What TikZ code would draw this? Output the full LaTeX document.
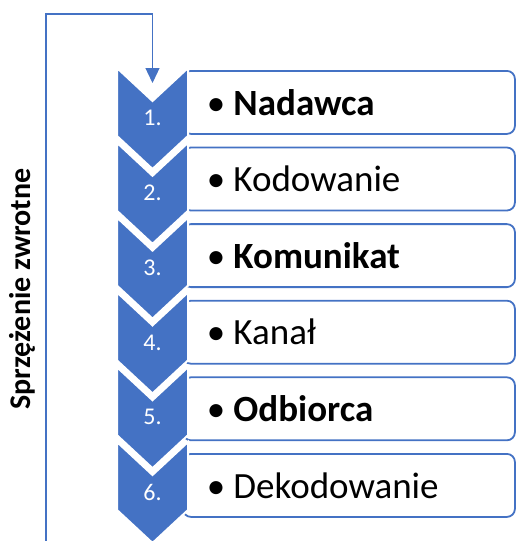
\documentclass[tikz,border=0pt]{standalone}
\usepackage{fontspec}
\setmainfont{Carlito}
\usetikzlibrary{arrows.meta,positioning}
\definecolor{accent}{HTML}{4472C4}

\begin{document}
\begin{tikzpicture}[x=1pt,y=-1pt,node distance=11.8pt,
    chevron/.style={fill=accent,draw=white,line width=2pt,line join=miter},
    entry/.style={draw=accent,line width=1.8pt,fill=white,rounded corners=8pt,
      minimum height=63pt,text width=284pt,inner xsep=24pt,align=left,
      font=\fontsize{37}{44}\selectfont},
    step label/.style={text=white,font=\fontsize{24}{28}\selectfont},
    feedback/.style={draw=accent,line width=1.3pt}]
      \useasboundingbox (0,0) rectangle (516,541);

      % boxes
      \node[entry,anchor=north west] (e1) at (182,70) {\textbullet\hspace{0.22em}\textbf{Nadawca}};
      \node[entry] (e2) [below=of e1] {\textbullet\hspace{0.22em}Kodowanie};
      \node[entry] (e3) [below=of e2] {\textbullet\hspace{0.22em}\textbf{Komunikat}};
      \node[entry] (e4) [below=of e3] {\textbullet\hspace{0.22em}Kanał};
      \node[entry] (e5) [below=of e4] {\textbullet\hspace{0.22em}\textbf{Odbiorca}};
      \node[entry] (e6) [below=of e5] {\textbullet\hspace{0.22em}Dekodowanie};

      % chevrons
      \draw[chevron] (117,68) -- (152.5,101) -- (188,68) -- (188,136) -- (152.5,169) -- (117,136) -- cycle;
      \draw[chevron] (117,142.8) -- (152.5,175.8) -- (188,142.8) -- (188,210.8) -- (152.5,243.8) -- (117,210.8) -- cycle;
      \draw[chevron] (117,217.6) -- (152.5,250.6) -- (188,217.6) -- (188,285.6) -- (152.5,318.6) -- (117,285.6) -- cycle;
      \draw[chevron] (117,292.4) -- (152.5,325.4) -- (188,292.4) -- (188,360.4) -- (152.5,393.4) -- (117,360.4) -- cycle;
      \draw[chevron] (117,367.2) -- (152.5,400.2) -- (188,367.2) -- (188,435.2) -- (152.5,468.2) -- (117,435.2) -- cycle;
      \draw[chevron] (117,442) -- (152.5,475) -- (188,442) -- (188,510) -- (152.5,543) -- (117,510) -- cycle;

      \node[step label] (n1) at (152.5,118) {1.};
      \node[step label] (n2) at (152.5,192.8) {2.};
      \node[step label] (n3) at (152.5,267.6) {3.};
      \node[step label] (n4) at (152.5,342.4) {4.};
      \node[step label] (n5) at (152.5,417.2) {5.};
      \node[step label] (n6) at (152.5,492) {6.};

      % feedback loop
      \coordinate (fb) at (46,541);
      \coordinate (fbtop) at (46,14);
      \coordinate (fbend) at (152.5,83);
      \draw[feedback,-{Triangle[width=14pt,length=15pt]}] (fb) -- (fbtop) -| (fbend);
      \node[rotate=90,font=\fontsize{30}{36}\selectfont\bfseries] (fblabel) at (22,289) {Sprzężenie zwrotne};
\end{tikzpicture}
\end{document}
